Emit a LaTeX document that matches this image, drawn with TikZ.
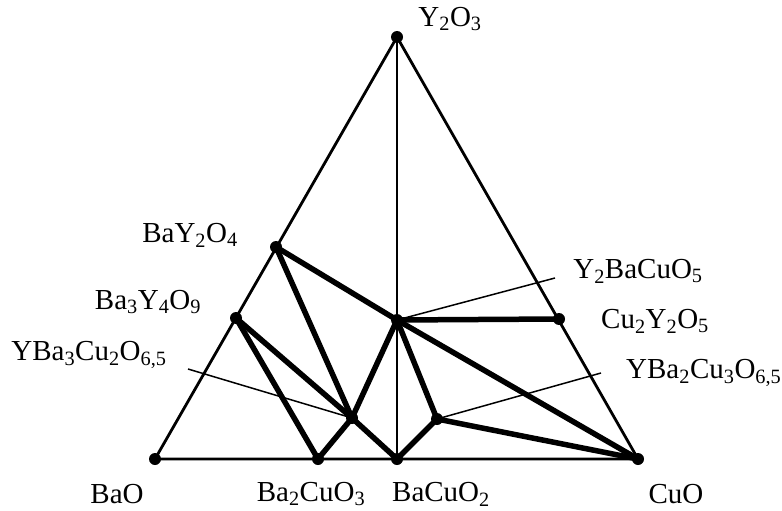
\documentclass[tikz,border=0pt]{standalone}
\usepackage{fontspec}
\setmainfont{Liberation Serif}
\usepackage{tikz}

\newcommand{\sbs}[1]{\textsubscript{#1}}

\tikzset{
  phase/.style={circle, fill=black, inner sep=0pt, minimum size=12pt},
  tieline/.style={line width=5.5pt, line cap=round},
  sideline/.style={line width=2.8pt},
  leader/.style={line width=1.5pt},
  chem/.style={font=\fontsize{29}{34}\selectfont, inner sep=0pt}
}

\begin{document}
\begin{tikzpicture}[x=1pt, y=-1pt]
    \useasboundingbox[fill=white] (0,0) rectangle (782,511);

    % Corners of the triangle
    \node[phase] (yo)   at (397, 37) {};
    \node[phase] (bao)  at (155,459) {};
    \node[phase] (cuo)  at (638,459) {};

    % Compounds on the sides
    \node[phase] (bcu)  at (397,459) {};
    \node[phase] (b2cu) at (318,459) {};
    \node[phase] (by2)  at (276,247) {};
    \node[phase] (b3y4) at (236,318) {};
    \node[phase] (cy)   at (559,319) {};

    % Compounds inside
    \node[phase] (y211) at (397,320) {};
    \node[phase] (y132) at (352,418) {};
    \node[phase] (y123) at (437,419) {};

    % Sides of the triangle and the middle line
    \draw[sideline] (bao.center) -- (yo.center) -- (cuo.center) -- cycle;
    \draw[sideline] (yo.center) -- (bcu.center);

    % Tie lines
    \foreach \a/\b in {by2/y211, by2/y132, b3y4/b2cu, b3y4/y132, y132/bcu,
                       b2cu/y132, y132/y211, y211/cy, y211/cuo, y211/y123,
                       y123/bcu, y123/cuo}
        \draw[tieline] (\a.center) -- (\b.center);

    % Labels
    \node[chem] (lyo)   at (450, 19) {Y\sbs{2}O\sbs{3}};
    \node[chem] (lby2)  at (190,235) {BaY\sbs{2}O\sbs{4}};
    \node[chem] (lb3y4) at (148,302) {Ba\sbs{3}Y\sbs{4}O\sbs{9}};
    \node[chem] (l132)  at ( 89,355) {YBa\sbs{3}Cu\sbs{2}O\sbs{6,5}};
    \node[chem] (l211)  at (638,271) {Y\sbs{2}BaCuO\sbs{5}};
    \node[chem] (lcy)   at (655,321) {Cu\sbs{2}Y\sbs{2}O\sbs{5}};
    \node[chem, anchor=west] (l123) at (626,373) {YBa\sbs{2}Cu\sbs{3}O\sbs{6,5}};
    \node[chem] (lbao)  at (117,494) {BaO};
    \node[chem] (lb2cu) at (311,494) {Ba\sbs{2}CuO\sbs{3}};
    \node[chem] (lbcu)  at (441,494) {BaCuO\sbs{2}};
    \node[chem] (lcuo)  at (676,494) {CuO};

    % Leader lines
    \coordinate (e132) at (188,369);
    \coordinate (e211) at (555,278);
    \coordinate (e123) at (601,373);
    \draw[leader] (e132) -- (y132.center);
    \draw[leader] (e211) -- (y211.center);
    \draw[leader] (e123) -- (y123.center);
\end{tikzpicture}
\end{document}
